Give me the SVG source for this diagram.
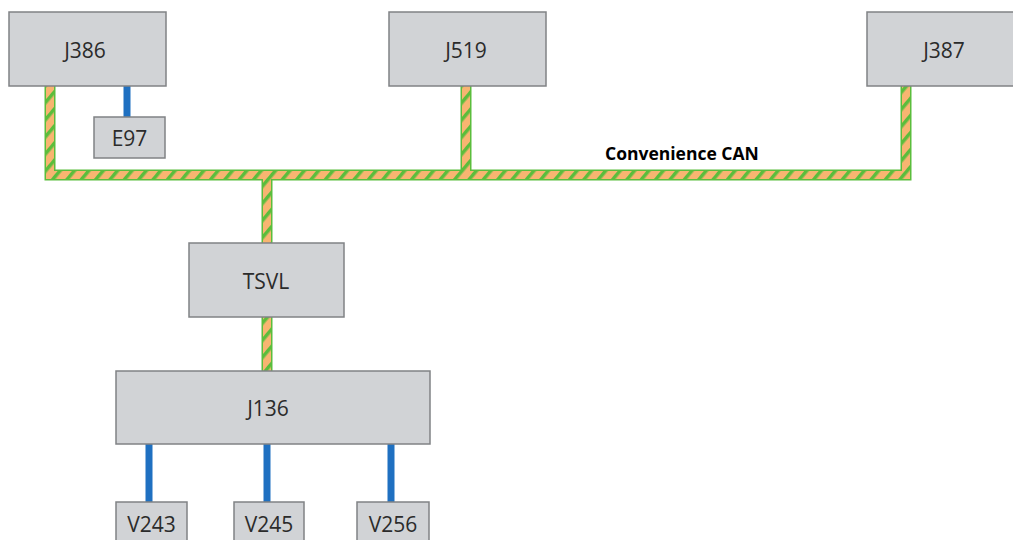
<svg xmlns="http://www.w3.org/2000/svg" width="1013" height="540" viewBox="0 0 1013 540">
<style>
.box{fill:#d1d3d6;stroke:#808285;stroke-width:1.5}
.lbl{font-family:"Open Sans","Noto Sans",sans-serif;font-size:21px;fill:#2b2b2b;text-anchor:middle}
.busO{fill:none;stroke:#5bbd3c;stroke-width:11}
.busI{fill:none;stroke:url(#stripes);stroke-width:8}
.blue{fill:none;stroke:#1f70c1;stroke-width:7}
.cap{font-family:"Open Sans","Noto Sans",sans-serif;font-size:17.5px;font-weight:bold;fill:#000}
</style>
<defs>
<pattern id="stripes" patternUnits="userSpaceOnUse" width="11" height="11" patternTransform="rotate(40)">
<rect width="11" height="11" fill="#f8b571"/>
<rect width="3.5" height="11" fill="#5bbd3c"/>
</pattern>
</defs>
<rect width="1013" height="540" fill="#ffffff"/>
<g id="connectors">
<path class="busO" d="M50,86 V175 H906 V86 M466,86 V175 M267,175 V243 M267,317 V371"/>
<path class="busI" d="M50,86 V175 H906 V86 M466,86 V175 M267,175 V243 M267,317 V371"/>
<path class="blue" d="M127,86 V117 M149,444 V502 M267,444 V502 M391,444 V502"/>
</g>
<g id="J386"><rect class="box" x="9" y="12" width="157" height="74"/><text class="lbl" x="85" y="58">J386</text></g>
<g id="E97"><rect class="box" x="94" y="117" width="71" height="41"/><text class="lbl" x="129.5" y="146">E97</text></g>
<g id="J519"><rect class="box" x="389" y="12" width="157" height="74"/><text class="lbl" x="466" y="58">J519</text></g>
<g id="J387"><rect class="box" x="867" y="12" width="160" height="74"/><text class="lbl" x="944" y="58">J387</text></g>
<g id="TSVL"><rect class="box" x="189" y="243" width="155" height="74"/><text class="lbl" x="266" y="289">TSVL</text></g>
<g id="J136"><rect class="box" x="116" y="371" width="314" height="73"/><text class="lbl" x="268" y="416">J136</text></g>
<g id="V243"><rect class="box" x="116" y="502" width="71" height="45"/><text class="lbl" x="151.5" y="532">V243</text></g>
<g id="V245"><rect class="box" x="234" y="502" width="70" height="45"/><text class="lbl" x="269" y="532">V245</text></g>
<g id="V256"><rect class="box" x="357" y="502" width="72" height="45"/><text class="lbl" x="393" y="532">V256</text></g>
<g id="label"><text class="cap" x="605" y="160">Convenience CAN</text></g>
</svg>
